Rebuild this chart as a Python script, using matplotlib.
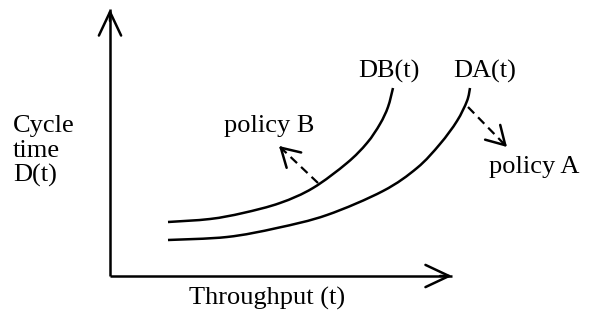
import matplotlib
matplotlib.use("Agg")
from matplotlib import pyplot as plt
from matplotlib.path import Path
from matplotlib.patches import PathPatch

# curves (origin = corner of the two axes)
db_x = [58, 100, 133, 170, 203, 237, 257, 270, 278, 283]
db_y = [54, 57, 63, 73, 88, 113, 133, 152, 169, 188]

da_x = [58, 117, 167, 217, 273, 307, 330, 347, 357, 360]
da_y = [36, 39, 48, 61, 85, 108, 132, 155, 175, 188]

curve_labels = ["DB(t)", "DA(t)"]
ylabel_lines = ["Cycle", "time", "D(t)"]
xlabel = "Throughput (t)"

# policy shift arrows: (tail, head)
policy_b = [(208, 93), (169, 130)]
policy_a = [(358, 169), (397, 129)]

plt.rcParams["font.family"] = ["Liberation Serif", "DejaVu Serif"]
fs = 19

fig = plt.figure(figsize=(5.94, 3.2), dpi=100)
ax = fig.add_axes([0, 0, 1, 1])
ax.set_xlim(-110, 484)
ax.set_ylim(-44, 276)
ax.axis("off")

ink = "black"
lw = 1.8
head = "->,head_length=0.85,head_width=0.4"


def smooth_curve(xs, ys):
    # catmull-rom through the read points, drawn as cubic bezier segments
    pts = list(zip(xs, ys))
    ext = [pts[0]] + pts + [pts[-1]]
    verts = [pts[0]]
    codes = [Path.MOVETO]
    for i in range(1, len(ext) - 2):
        p0, p1, p2, p3 = ext[i - 1], ext[i], ext[i + 1], ext[i + 2]
        c1 = (p1[0] + (p2[0] - p0[0]) / 6, p1[1] + (p2[1] - p0[1]) / 6)
        c2 = (p2[0] - (p3[0] - p1[0]) / 6, p2[1] - (p3[1] - p1[1]) / 6)
        verts += [c1, c2, p2]
        codes += [Path.CURVE4] * 3
    return PathPatch(Path(verts, codes), fill=False, color=ink, lw=lw)


# axes with open arrow heads
ax.plot([0, 342], [0, 0], color=ink, lw=lw, solid_capstyle="butt")
ax.plot([0, 0], [0, 267], color=ink, lw=lw, solid_capstyle="butt")
ax.annotate("", xy=(342, 0), xytext=(330, 0),
            arrowprops=dict(arrowstyle=head, lw=lw, color=ink, mutation_scale=20,
                            shrinkA=0, shrinkB=0))
ax.annotate("", xy=(0, 267), xytext=(0, 255),
            arrowprops=dict(arrowstyle=head, lw=lw, color=ink, mutation_scale=20,
                            shrinkA=0, shrinkB=0))

# the two cycle time curves
ax.add_patch(smooth_curve(db_x, db_y))
ax.add_patch(smooth_curve(da_x, da_y))
ax.text(248, 198, curve_labels[0], fontsize=fs, ha="left", va="baseline")
ax.text(343, 198, curve_labels[1], fontsize=fs, ha="left", va="baseline")

# dashed arrows with solid heads
for (tx, ty), (hx, hy) in [policy_b, policy_a]:
    ax.plot([tx, hx], [ty, hy], color=ink, lw=1.6, linestyle=(0, (4, 2.5)))
    dx, dy = hx - tx, hy - ty
    ax.annotate("", xy=(hx, hy), xytext=(hx - dx * 0.1, hy - dy * 0.1),
                arrowprops=dict(arrowstyle="->,head_length=0.65,head_width=0.38", lw=lw,
                                color=ink, mutation_scale=20, shrinkA=0, shrinkB=0))
ax.text(114, 144, "policy B", fontsize=fs, ha="left", va="baseline")
ax.text(379, 103, "policy A", fontsize=fs, ha="left", va="baseline")

# axis labels
for i, line in enumerate(ylabel_lines):
    ax.text(-97, 144 - 25 * i, line, fontsize=fs, ha="left", va="baseline")
ax.text(79, -29, xlabel, fontsize=fs, ha="left", va="baseline")

fig.savefig("out.png", dpi=100)
